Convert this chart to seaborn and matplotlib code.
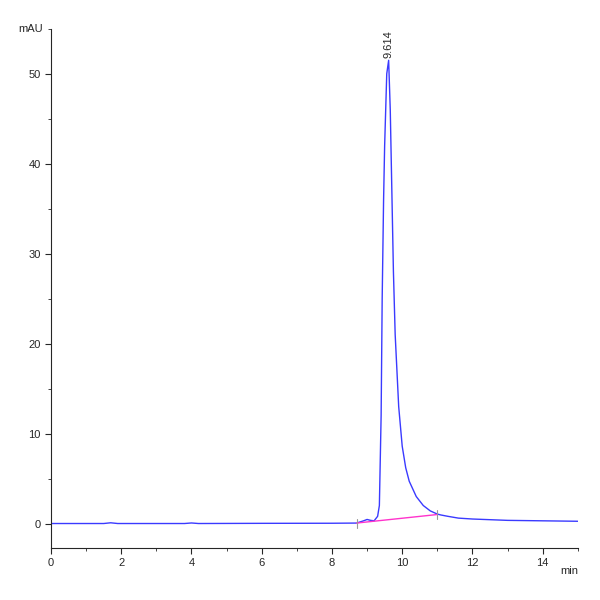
import matplotlib
matplotlib.use("Agg")
import matplotlib.pyplot as plt
import seaborn as sns
import pandas as pd
from matplotlib.ticker import MultipleLocator

time = [0, 1.5, 1.7, 1.9, 3.8, 4.0, 4.2, 6.0, 8.0, 8.7, 8.9, 9.0, 9.1, 9.2, 9.3, 9.35, 9.4, 9.43, 9.47,
        9.5, 9.56, 9.614, 9.66, 9.72, 9.75, 9.8, 9.9, 10.0, 10.1, 10.2, 10.4, 10.6, 10.8, 11.0, 11.1,
        11.3, 11.6, 12.0, 13.0, 14.0, 15.0]
signal = [0.0, 0.0, 0.08, 0.0, 0.0, 0.06, 0.0, 0.02, 0.03, 0.05, 0.3, 0.45, 0.35, 0.3, 0.8, 2.0, 12, 25, 36,
          42, 50, 51.5, 46, 34, 28, 21, 13, 8.6, 6.2, 4.7, 3.0, 2.0, 1.4, 1.05, 0.95,
          0.8, 0.6, 0.5, 0.35, 0.3, 0.25]
base_t = [8.7, 11.0]
base_v = [0.05, 1.0]
peak_label = "9.614"

sns.set_style("ticks")
plt.rcParams['font.family'] = ['Liberation Sans', 'DejaVu Sans']
fig = plt.figure(figsize=(6, 6), dpi=100)
ax = fig.add_axes([0.085, 0.087, 0.878, 0.865])
df = pd.DataFrame({"t": time, "v": signal})
sns.lineplot(data=df, x="t", y="v", ax=ax, color="#3a3aff", lw=1.0)
ax.plot(base_t, base_v, color="#ff33cc", lw=1.0)
for bt, bv in zip(base_t, base_v):
    ax.plot([bt, bt], [bv - 0.5, bv + 0.5], color="#999999", lw=0.8)
ax.text(9.614, 51.8, peak_label, rotation=90, ha="center", va="bottom", fontsize=8)
ax.set_xlim(0, 15)
ax.set_ylim(-2.7, 55)
ax.xaxis.set_major_locator(MultipleLocator(2))
ax.xaxis.set_minor_locator(MultipleLocator(1))
ax.yaxis.set_major_locator(MultipleLocator(10))
ax.yaxis.set_minor_locator(MultipleLocator(5))
ax.tick_params(labelsize=8, length=4, width=0.8)
ax.tick_params(which="minor", length=2.5)
sns.despine(ax=ax)
ax.set_xlabel(""); ax.set_ylabel("")
ax.text(1.0, -0.035, "min", transform=ax.transAxes, ha="right", va="top", fontsize=8)
ax.text(-0.015, 1.0, "mAU", transform=ax.transAxes, ha="right", va="center", fontsize=8)
fig.savefig("out.png", dpi=100, facecolor="white")
